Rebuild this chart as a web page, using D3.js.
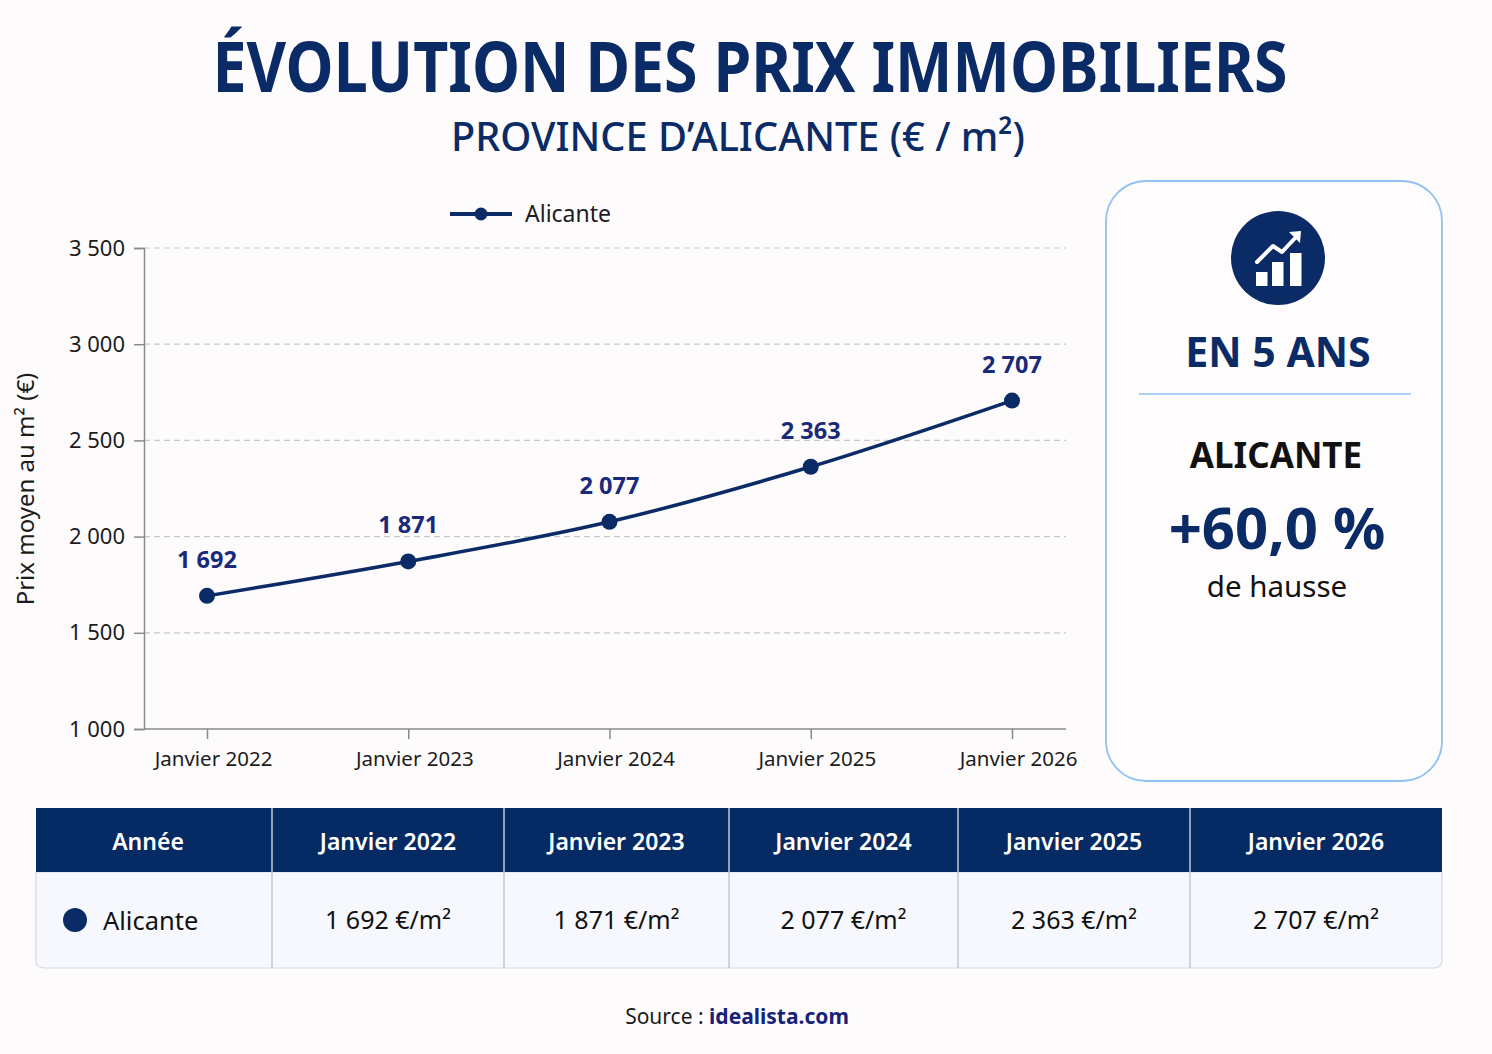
<!DOCTYPE html>
<html>
<head>
<meta charset="utf-8">
<script src="https://cdn.jsdelivr.net/npm/d3@7"></script>
<style>
  html, body { margin: 0; padding: 0; background: #fdfbfc; }
  svg { display: block; font-family: "Noto Sans", "DejaVu Sans", sans-serif; }
</style>
</head>
<body>
<div id="chart"></div>
<script>
// values
var years   = ["Janvier 2022", "Janvier 2023", "Janvier 2024", "Janvier 2025", "Janvier 2026"];
var prices  = [1692, 1871, 2077, 2363, 2707];
var yTicks  = [1000, 1500, 2000, 2500, 3000, 3500];
var region  = "Alicante";

var W = 1492, H = 1054;
var navy  = "#0b2b66";
var ink   = "#1c1c1c";

var fmt = function (v) { return d3.format(",")(v).replace(/,/g, " "); };

var svg = d3.select("#chart")
  .append("svg")
    .attr("width", W)
    .attr("height", H);

svg.append("rect")
  .attr("width", W).attr("height", H)
  .attr("fill", "#fdfbfc");

// titles
svg.append("text")
  .attr("x", 750).attr("y", 92)
  .attr("text-anchor", "middle")
  .attr("font-size", 70).attr("font-weight", 700)
  .attr("fill", navy)
  .attr("textLength", 1075).attr("lengthAdjust", "spacingAndGlyphs")
  .text("ÉVOLUTION DES PRIX IMMOBILIERS");

svg.append("text")
  .attr("x", 738).attr("y", 151)
  .attr("text-anchor", "middle")
  .attr("font-size", 40).attr("font-weight", 500)
  .attr("fill", navy)
  .attr("textLength", 574).attr("lengthAdjust", "spacingAndGlyphs")
  .text("PROVINCE D’ALICANTE (€ / m²)");

// scales
var x = d3.scalePoint().domain(years).range([207, 1012]);
var y = d3.scaleLinear().domain([1000, 3500]).range([729, 248]);
var x0 = 144, x1 = 1066;

var g = svg.append("g");

// grid
g.selectAll("line.grid")
  .data(yTicks.filter(function (d) { return d > 1000; }))
  .enter().append("line")
    .attr("class", "grid")
    .attr("x1", x0).attr("x2", x1)
    .attr("y1", function (d) { return y(d); })
    .attr("y2", function (d) { return y(d); })
    .attr("stroke", "#c9c9c9")
    .attr("stroke-width", 1.2)
    .attr("stroke-dasharray", "6,4");

// y axis
var yAxis = g.append("g")
  .attr("transform", "translate(" + x0 + ",0)")
  .call(d3.axisLeft(y).tickValues(yTicks).tickFormat(fmt).tickSize(10).tickPadding(9));
yAxis.select(".domain").attr("stroke", "#8a8a8a").attr("stroke-width", 1.5);
yAxis.selectAll(".tick line").attr("stroke", "#8a8a8a").attr("stroke-width", 1.5);
yAxis.selectAll(".tick text")
  .attr("font-size", 22).attr("fill", ink)
  .attr("font-family", "Noto Sans");

// x axis
var xAxis = g.append("g")
  .attr("transform", "translate(0," + y(1000) + ")")
  .call(d3.axisBottom(x).tickSize(10).tickPadding(12));
xAxis.select(".domain").remove();
xAxis.append("line")
  .attr("x1", x0).attr("x2", x1)
  .attr("stroke", "#8a8a8a").attr("stroke-width", 1.5);
xAxis.selectAll(".tick line").attr("stroke", "#8a8a8a").attr("stroke-width", 1.5);
xAxis.selectAll(".tick text")
  .attr("font-size", 20.5).attr("fill", ink)
  .attr("font-family", "Noto Sans")
  .attr("dx", 6);

// y title
svg.append("text")
  .attr("transform", "translate(34,489) rotate(-90)")
  .attr("text-anchor", "middle")
  .attr("font-size", 24).attr("fill", ink)
  .text("Prix moyen au m² (€)");

// line
var pts = years.map(function (d, i) { return { year: d, value: prices[i] }; });

g.append("path")
  .datum(pts)
  .attr("fill", "none")
  .attr("stroke", navy)
  .attr("stroke-width", 3.5)
  .attr("d", d3.line()
    .x(function (d) { return x(d.year); })
    .y(function (d) { return y(d.value); })
    .curve(d3.curveMonotoneX));

g.selectAll("circle.pt")
  .data(pts)
  .enter().append("circle")
    .attr("class", "pt")
    .attr("cx", function (d) { return x(d.year); })
    .attr("cy", function (d) { return y(d.value); })
    .attr("r", 8)
    .attr("fill", navy);

g.selectAll("text.lbl")
  .data(pts)
  .enter().append("text")
    .attr("class", "lbl")
    .attr("x", function (d) { return x(d.year); })
    .attr("y", function (d) { return y(d.value) - 28; })
    .attr("text-anchor", "middle")
    .attr("font-size", 23.5).attr("font-weight", 700)
    .attr("fill", "#1b2a78")
    .text(function (d) { return fmt(d.value); });

// legend
var lg = svg.append("g").attr("transform", "translate(450,214)");
lg.append("line").attr("x1", 0).attr("x2", 62)
  .attr("stroke", navy).attr("stroke-width", 4);
lg.append("circle").attr("cx", 31).attr("r", 6.5).attr("fill", navy);
lg.append("text").attr("x", 75).attr("y", 8)
  .attr("font-size", 23).attr("fill", ink)
  .text(region);

// side card
var card = svg.append("g");
card.append("rect")
  .attr("x", 1106).attr("y", 181)
  .attr("width", 336).attr("height", 600)
  .attr("rx", 40)
  .attr("fill", "#fefcfd")
  .attr("stroke", "#90c2f4").attr("stroke-width", 1.8);

card.append("circle").attr("cx", 1278).attr("cy", 258).attr("r", 47).attr("fill", navy);
var icon = card.append("g").attr("fill", "#fff");
[[1256, 272], [1272, 262], [1290, 253]].forEach(function (b) {
  icon.append("rect").attr("x", b[0]).attr("y", b[1])
    .attr("width", 11.5).attr("height", 286 - b[1]);
});
card.append("path")
  .attr("d", "M1257,262 L1273,246 L1282,252 L1297,236")
  .attr("fill", "none").attr("stroke", "#fff")
  .attr("stroke-width", 4).attr("stroke-linecap", "round").attr("stroke-linejoin", "round");
card.append("path")
  .attr("d", "M1301,231 L1289,232 L1300,243 Z")
  .attr("fill", "#fff");

card.append("text")
  .attr("x", 1278).attr("y", 367)
  .attr("text-anchor", "middle")
  .attr("font-size", 41).attr("font-weight", 700)
  .attr("fill", navy)
  .text("EN 5 ANS");

card.append("line")
  .attr("x1", 1139).attr("x2", 1411)
  .attr("y1", 394).attr("y2", 394)
  .attr("stroke", "#90c2f4").attr("stroke-width", 1.5);

card.append("text")
  .attr("x", 1276).attr("y", 468)
  .attr("text-anchor", "middle")
  .attr("font-size", 35).attr("font-weight", 700)
  .attr("fill", "#111")
  .text(region.toUpperCase());

var growth = (prices[prices.length - 1] / prices[0] - 1) * 100;
card.append("text")
  .attr("x", 1277).attr("y", 549)
  .attr("text-anchor", "middle")
  .attr("font-size", 58).attr("font-weight", 700)
  .attr("fill", navy)
  .text("+" + growth.toFixed(1).replace(".", ",") + " %");

card.append("text")
  .attr("x", 1277).attr("y", 597)
  .attr("text-anchor", "middle")
  .attr("font-size", 29.5)
  .attr("fill", "#111")
  .text("de hausse");

// table
var colEdges = [36, 272, 504, 729, 958, 1190, 1442];
var headers  = ["Année"].concat(years);
var tTop = 808, tMid = 872, tBot = 968;

var tbl = svg.append("g");
tbl.append("path")
  .attr("d", "M36," + tMid + " H1442 V" + (tBot - 8) + " Q1442," + tBot + " 1434," + tBot +
             " H44 Q36," + tBot + " 36," + (tBot - 8) + " Z")
  .attr("fill", "#f6f8fd")
  .attr("stroke", "#d3d8e4").attr("stroke-width", 1.2);
tbl.append("rect")
  .attr("x", 36).attr("y", tTop)
  .attr("width", 1406).attr("height", tMid - tTop)
  .attr("fill", "#062a63");

tbl.selectAll("line.col")
  .data(colEdges.slice(1, -1))
  .enter().append("line")
    .attr("x1", function (d) { return d; }).attr("x2", function (d) { return d; })
    .attr("y1", tTop).attr("y2", tBot)
    .attr("stroke", "#c2c8d6").attr("stroke-width", 1.5);

tbl.selectAll("text.hd")
  .data(headers)
  .enter().append("text")
    .attr("x", function (d, i) { return (colEdges[i] + colEdges[i + 1]) / 2 - (i === 0 ? 6 : 0); })
    .attr("y", 850)
    .attr("text-anchor", "middle")
    .attr("font-size", 23).attr("font-weight", 600)
    .attr("fill", "#fff")
    .text(function (d) { return d; });

tbl.append("circle").attr("cx", 75).attr("cy", 920).attr("r", 12).attr("fill", navy);
tbl.append("text")
  .attr("x", 103).attr("y", 930)
  .attr("font-size", 25.5).attr("fill", "#111")
  .text(region);

tbl.selectAll("text.val")
  .data(prices)
  .enter().append("text")
    .attr("x", function (d, i) { return (colEdges[i + 1] + colEdges[i + 2]) / 2; })
    .attr("y", 929)
    .attr("text-anchor", "middle")
    .attr("font-size", 25).attr("fill", "#111")
    .text(function (d) { return fmt(d) + " €/m²"; });

// source
var src = svg.append("text")
  .attr("x", 737).attr("y", 1024)
  .attr("text-anchor", "middle")
  .attr("font-size", 21).attr("fill", ink);
src.append("tspan").text("Source : ");
src.append("tspan").attr("font-weight", 700).attr("fill", "#16217a").text("idealista.com");
</script>
</body>
</html>
